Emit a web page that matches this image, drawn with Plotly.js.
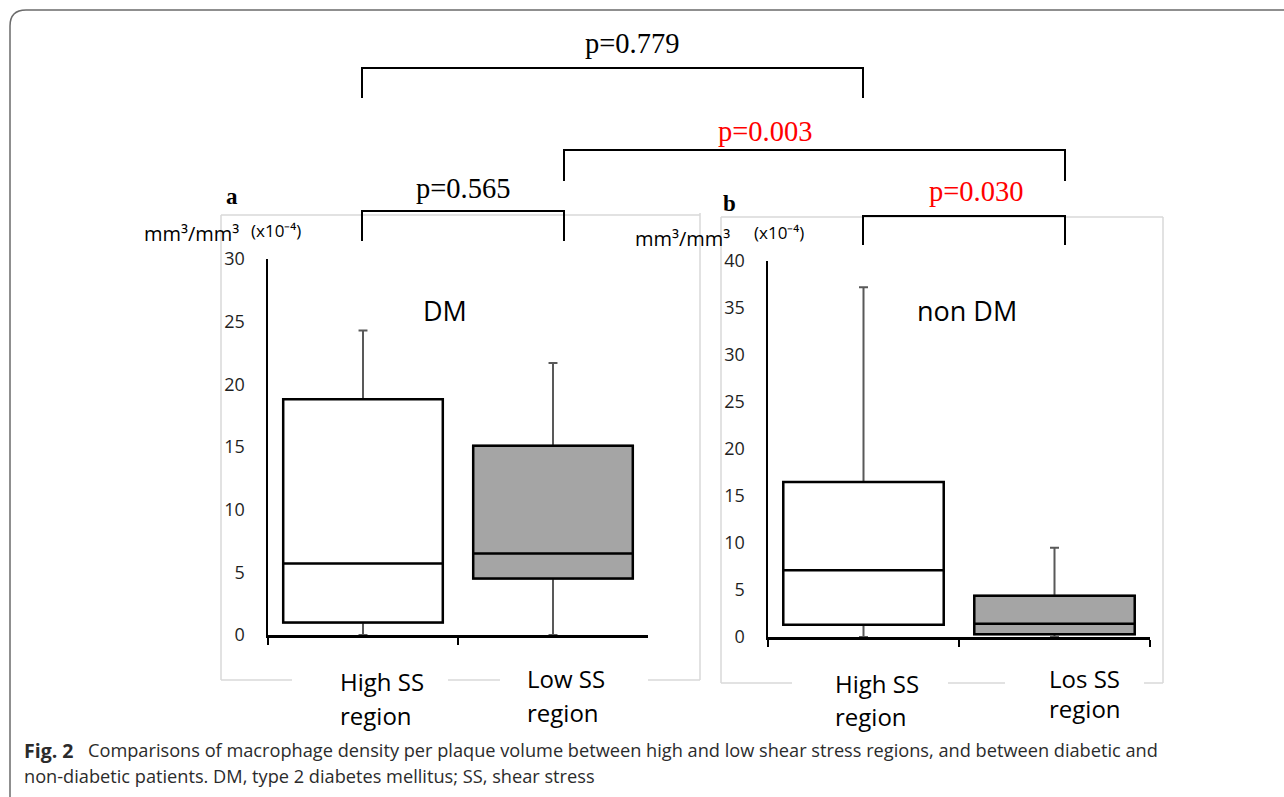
<!DOCTYPE html>
<html>
<head>
<meta charset="utf-8">
<script src="https://cdn.plot.ly/plotly-3.0.1.min.js"></script>
<style>html,body{margin:0;padding:0;background:#fff;}#chart{width:1284px;height:797px;}</style>
</head>
<body>
<div id="chart"></div>
<script>
// ---- data ----
const catsA = ['High SS region', 'Low SS region'];
const q1A = [1.0, 4.5];
const medA = [5.7, 6.5];
const q3A = [18.8, 15.1];
const lowA = [0, 0];
const highA = [24.3, 21.7];

const catsB = ['High SS region', 'Los SS region'];
const q1B = [1.3, 0.3];
const medB = [7.1, 1.4];
const q3B = [16.5, 4.4];
const lowB = [0, 0];
const highB = [37.2, 9.5];

const labelLine1A = ['High SS', 'Low SS'];
const labelLine2A = ['region', 'region'];
const labelLine1B = ['High SS', 'Los SS'];
const labelLine2B = ['region', 'region'];

const fills = ['#ffffff', '#a5a5a5'];
const yTicksA = [0, 5, 10, 15, 20, 25, 30];
const yTicksB = [0, 5, 10, 15, 20, 25, 30, 35, 40];

const pLabels = ['p=0.779', 'p=0.003', 'p=0.565', 'p=0.030'];
const pColors = ['#000000', '#ff0000', '#000000', '#ff0000'];

// ---- helpers (pixel -> paper) ----
const W = 1284, H = 797;
const px = x => x / W;
const py = y => 1 - y / H;

function whiskerTrace(cats, q1, med, q3, lo, hi, xa, ya) {
  return {
    type: 'box', x: cats, q1: q1, median: med, q3: q3, lowerfence: lo, upperfence: hi,
    xaxis: xa, yaxis: ya, width: 0.84, whiskerwidth: 0.056,
    line: {color: '#595959', width: 2}, fillcolor: 'rgba(0,0,0,0)',
    boxpoints: false, hoverinfo: 'skip', showlegend: false
  };
}
function boxTrace(cats, q1, med, q3, i, xa, ya) {
  return {
    type: 'box', x: [cats[i]], q1: [q1[i]], median: [med[i]], q3: [q3[i]],
    lowerfence: [q1[i]], upperfence: [q3[i]],
    xaxis: xa, yaxis: ya, width: 0.84, whiskerwidth: 0,
    line: {color: '#000000', width: 2.5}, fillcolor: fills[i],
    boxpoints: false, hoverinfo: 'skip', showlegend: false
  };
}

const traces = [
  whiskerTrace(catsA, q1A, medA, q3A, lowA, highA, 'x', 'y'),
  boxTrace(catsA, q1A, medA, q3A, 0, 'x', 'y'),
  boxTrace(catsA, q1A, medA, q3A, 1, 'x', 'y'),
  whiskerTrace(catsB, q1B, medB, q3B, lowB, highB, 'x2', 'y2'),
  boxTrace(catsB, q1B, medB, q3B, 0, 'x2', 'y2'),
  boxTrace(catsB, q1B, medB, q3B, 1, 'x2', 'y2')
];

const tickFont = {family: 'Open Sans, sans-serif', size: 18, color: '#1f1f1f'};
function xAxis(d0, d1, anchor, cats) {
  return {
    domain: [px(d0), px(d1)], anchor: anchor, type: 'category', categoryarray: cats,
    range: [-0.5, 1.5], showline: true, linecolor: '#000', linewidth: 2.5,
    ticks: 'outside', tickson: 'boundaries', ticklen: 7, tickwidth: 2.5, tickcolor: '#000',
    showticklabels: false, showgrid: false, zeroline: false, fixedrange: true
  };
}
function yAxis(y0, y1, anchor, maxv, tv) {
  return {
    domain: [py(y0), py(y1)], anchor: anchor, range: [0, maxv],
    showline: true, linecolor: '#000', linewidth: 2.5, ticks: '',
    tickmode: 'array', tickvals: tv, ticktext: tv.map(String),
    tickfont: tickFont, ticklabelstandoff: 17,
    showgrid: false, zeroline: false, fixedrange: true
  };
}

// ---- shapes ----
const shapes = [];
function line(x0, y0, x1, y1, color, width) {
  shapes.push({type: 'line', xref: 'paper', yref: 'paper', x0: px(x0), y0: py(y0), x1: px(x1), y1: py(y1),
    line: {color: color, width: width}, layer: 'below'});
}
// outer frame
shapes.push({type: 'path', xref: 'paper', yref: 'paper',
  path: `M ${px(10)} ${py(800)} L ${px(10)} ${py(26)} Q ${px(10)} ${py(10)} ${px(26)} ${py(10)} L ${px(1290)} ${py(10)}`,
  line: {color: '#6b6b6b', width: 1.5}, layer: 'below'});
// light chart frames
const fc = '#d9d9d9';
line(221, 215, 700, 215, fc, 1.5); line(221, 215, 221, 680, fc, 1.5); line(700, 213, 700, 680, fc, 1.5);
line(221, 680, 292, 680, fc, 1.5); line(448, 680, 500, 680, fc, 1.5); line(648, 680, 700, 680, fc, 1.5);
line(721, 217, 1163, 217, fc, 1.5); line(721, 217, 721, 683, fc, 1.5); line(1163, 217, 1163, 683, fc, 1.5);
line(721, 683, 792, 683, fc, 1.5); line(948, 683, 1005, 683, fc, 1.5); line(1144, 683, 1163, 683, fc, 1.5);
// brackets
const brackets = [
  {x0: 362, x1: 863, y: 68, yb: 98},
  {x0: 564, x1: 1065, y: 150, yb: 181},
  {x0: 362, x1: 564, y: 211, yb: 241},
  {x0: 863, x1: 1065, y: 216, yb: 245}
];
brackets.forEach(b => {
  shapes.push({type: 'path', xref: 'paper', yref: 'paper',
    path: `M ${px(b.x0)} ${py(b.yb)} L ${px(b.x0)} ${py(b.y)} L ${px(b.x1)} ${py(b.y)} L ${px(b.x1)} ${py(b.yb)}`,
    line: {color: '#000', width: 2}, layer: 'above'});
});

// ---- annotations ----
const ann = [];
function text(t, x, y, size, opts) {
  ann.push(Object.assign({text: t, xref: 'paper', yref: 'paper', x: px(x), y: py(y),
    xanchor: 'center', yanchor: 'middle', showarrow: false,
    font: {family: 'Open Sans, sans-serif', size: size, color: '#000'}}, opts || {}));
}
const pPos = [[632, 43], [765, 131], [463, 188], [976, 192]];
pLabels.forEach((t, i) => text(t, pPos[i][0], pPos[i][1], 28.5,
  {font: {family: 'Liberation Serif, serif', size: 28.5, color: pColors[i]}}));

text('a', 232, 197, 23, {font: {family: 'Liberation Serif, serif', size: 23, color: '#000', weight: 'bold'}});
text('b', 729, 203, 23, {font: {family: 'Liberation Serif, serif', size: 23, color: '#000', weight: 'bold'}});

text('DM', 445, 310, 27);
text('non DM', 967, 310, 27);

text('mm\u00B3/mm\u00B3', 142, 233, 20, {xanchor: 'left'});
text('(x10\u207B\u2074)', 249, 231, 17, {xanchor: 'left'});
text('mm\u00B3/mm\u00B3', 633, 238, 20, {xanchor: 'left'});
text('(x10\u207B\u2074)', 752, 232, 17, {xanchor: 'left'});

const catLeftA = [338, 525], catLeftB = [833, 1047];
const l1yA = [681, 678], l2yA = [715, 712];
const l1yB = [683, 678], l2yB = [716, 708];
for (let i = 0; i < 2; i++) {
  text(labelLine1A[i], catLeftA[i], l1yA[i], 24, {xanchor: 'left'});
  text(labelLine2A[i], catLeftA[i], l2yA[i], 24, {xanchor: 'left'});
  text(labelLine1B[i], catLeftB[i], l1yB[i], 24, {xanchor: 'left'});
  text(labelLine2B[i], catLeftB[i], l2yB[i], 24, {xanchor: 'left'});
}

const capFont = {family: 'Open Sans, sans-serif', size: 18.2, color: '#2b2b2b'};
text('Fig. 2', 22, 750, 19.5, {xanchor: 'left', font: Object.assign({}, capFont, {size: 19.5, weight: 'bold'})});
text('Comparisons of macrophage density per plaque volume between high and low shear stress regions, and between diabetic and',
  86, 750, 18.2, {xanchor: 'left', font: capFont});
text('non-diabetic patients. DM, type 2 diabetes mellitus; SS, shear stress',
  22, 776, 18.2, {xanchor: 'left', font: capFont});

const layout = {
  width: W, height: H, margin: {l: 0, r: 0, t: 0, b: 0},
  paper_bgcolor: '#fff', plot_bgcolor: 'rgba(0,0,0,0)',
  boxmode: 'overlay', showlegend: false,
  xaxis: xAxis(268, 648, 'y', catsA),
  yaxis: yAxis(635, 259, 'x', 30, yTicksA),
  xaxis2: xAxis(768, 1150, 'y2', catsB),
  yaxis2: yAxis(637, 261, 'x2', 40, yTicksB),
  shapes: shapes, annotations: ann
};

Plotly.newPlot('chart', traces, layout, {displayModeBar: false, staticPlot: true});
</script>
</body>
</html>
